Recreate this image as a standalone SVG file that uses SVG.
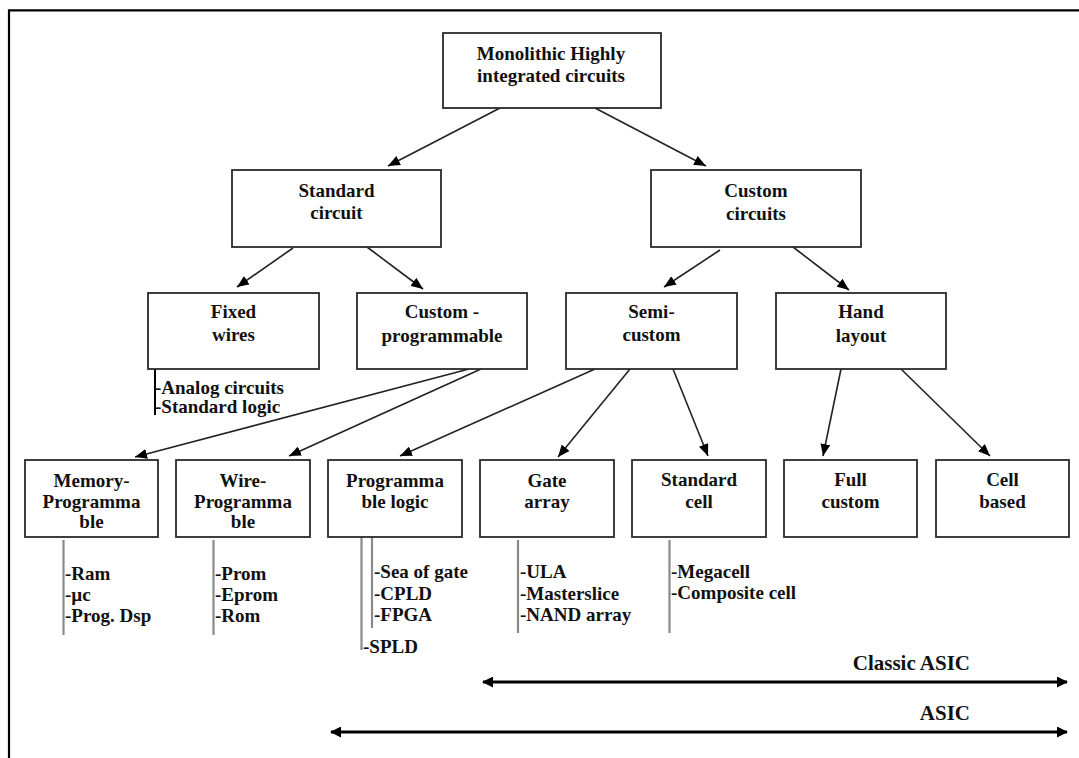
<svg xmlns="http://www.w3.org/2000/svg" width="1079" height="758" viewBox="0 0 1079 758">
  <style>
    .box { fill: #fff; stroke: #2a2a2a; stroke-width: 1.8; }
    .lbl { font-family: "Liberation Serif", "Times New Roman", serif; font-weight: bold; font-size: 19px; fill: #111; text-anchor: middle; }
    .item { font-family: "Liberation Serif", "Times New Roman", serif; font-weight: bold; font-size: 19px; fill: #111; }
    .range { font-family: "Liberation Serif", "Times New Roman", serif; font-weight: bold; font-size: 21px; fill: #111; text-anchor: end; }
    .edge { stroke: #222; stroke-width: 1.6; fill: none; marker-end: url(#tip); }
    .brk { stroke: #8a8a8a; stroke-width: 2.2; fill: none; }
    .span { stroke: #000; stroke-width: 3; fill: none; marker-start: url(#head); marker-end: url(#head); }
  </style>
  <defs>
    <marker id="tip" viewBox="0 0 12 10" markerWidth="12" markerHeight="10" refX="12" refY="5" orient="auto" markerUnits="userSpaceOnUse">
      <path d="M0,0 L12,5 L0,10 z" fill="#000"/>
    </marker>
    <marker id="head" viewBox="0 0 11 11" markerWidth="11" markerHeight="11" refX="10" refY="5.5" orient="auto-start-reverse" markerUnits="userSpaceOnUse">
      <path d="M0,0 L11,5.5 L0,11 z" fill="#000"/>
    </marker>
  </defs>

  <rect x="0" y="0" width="1079" height="758" fill="#fff"/>
  <!-- page frame -->
  <path d="M9,758 V10.3 H1079" stroke="#000" stroke-width="2.2" fill="none"/>

  <!-- connectors -->
  <g id="connectors">
    <line class="edge" x1="500" y1="108" x2="388" y2="166"/>
    <line class="edge" x1="595" y1="108" x2="706" y2="166"/>
    <line class="edge" x1="293" y1="248" x2="237" y2="287"/>
    <line class="edge" x1="367" y1="247" x2="423" y2="289"/>
    <line class="edge" x1="720" y1="250" x2="664" y2="287"/>
    <line class="edge" x1="793" y1="247" x2="849" y2="290"/>
    <line class="edge" x1="469" y1="369" x2="135" y2="457"/>
    <line class="edge" x1="481" y1="369" x2="289" y2="456"/>
    <line class="edge" x1="595" y1="369" x2="400" y2="456"/>
    <line class="edge" x1="630" y1="369" x2="558" y2="457"/>
    <line class="edge" x1="673" y1="369" x2="708" y2="456"/>
    <line class="edge" x1="841" y1="369" x2="823" y2="456"/>
    <line class="edge" x1="901" y1="369" x2="990" y2="456"/>
    <!-- list brackets -->
    <line x1="155" y1="369" x2="155" y2="415" stroke="#000" stroke-width="2"/>
    <line class="brk" x1="63.5" y1="540" x2="63.5" y2="635"/>
    <line class="brk" x1="213.5" y1="540" x2="213.5" y2="635"/>
    <line class="brk" x1="361.5" y1="537" x2="361.5" y2="650"/>
    <line class="brk" x1="372" y1="537" x2="372" y2="628"/>
    <line class="brk" x1="518" y1="540" x2="518" y2="633"/>
    <line class="brk" x1="669.5" y1="540" x2="669.5" y2="633"/>
    <!-- ASIC ranges -->
    <line class="span" x1="483" y1="682" x2="1067" y2="682"/>
    <line class="span" x1="331" y1="732" x2="1067" y2="732"/>
  </g>

  <g id="n-monolithic">
    <rect class="box" x="443" y="33" width="218" height="75"/>
    <text class="lbl" x="551" y="60">Monolithic Highly</text>
    <text class="lbl" x="551" y="82">integrated circuits</text>
  </g>
  <g id="n-standard-circuit">
    <rect class="box" x="232" y="170" width="209" height="77"/>
    <text class="lbl" x="336.5" y="197">Standard</text>
    <text class="lbl" x="336.5" y="219">circuit</text>
  </g>
  <g id="n-custom-circuits">
    <rect class="box" x="651" y="170" width="210" height="77"/>
    <text class="lbl" x="756" y="197">Custom</text>
    <text class="lbl" x="756" y="220">circuits</text>
  </g>
  <g id="n-fixed-wires">
    <rect class="box" x="148" y="293" width="171" height="76"/>
    <text class="lbl" x="233.5" y="318">Fixed</text>
    <text class="lbl" x="233.5" y="341">wires</text>
  </g>
  <g id="n-custom-programmable">
    <rect class="box" x="357" y="293" width="170" height="76"/>
    <text class="lbl" x="442" y="318">Custom -</text>
    <text class="lbl" x="442" y="342">programmable</text>
  </g>
  <g id="n-semi-custom">
    <rect class="box" x="566" y="293" width="171" height="76"/>
    <text class="lbl" x="651.5" y="318">Semi-</text>
    <text class="lbl" x="651.5" y="341">custom</text>
  </g>
  <g id="n-hand-layout">
    <rect class="box" x="776" y="293" width="170" height="76"/>
    <text class="lbl" x="861" y="318">Hand</text>
    <text class="lbl" x="861" y="342">layout</text>
  </g>

  <g id="n-memory-programmable">
    <rect class="box" x="25" y="460" width="133" height="77"/>
    <text class="lbl" x="91.5" y="487">Memory-</text>
    <text class="lbl" x="91.5" y="508">Programma</text>
    <text class="lbl" x="91.5" y="528">ble</text>
  </g>
  <g id="n-wire-programmable">
    <rect class="box" x="176" y="460" width="134" height="77"/>
    <text class="lbl" x="243" y="487">Wire-</text>
    <text class="lbl" x="243" y="508">Programma</text>
    <text class="lbl" x="243" y="528">ble</text>
  </g>
  <g id="n-programmable-logic">
    <rect class="box" x="328" y="460" width="134" height="77"/>
    <text class="lbl" x="395" y="487">Programma</text>
    <text class="lbl" x="395" y="508">ble logic</text>
  </g>
  <g id="n-gate-array">
    <rect class="box" x="480" y="460" width="134" height="77"/>
    <text class="lbl" x="547" y="487">Gate</text>
    <text class="lbl" x="547" y="508">array</text>
  </g>
  <g id="n-standard-cell">
    <rect class="box" x="632" y="460" width="134" height="77"/>
    <text class="lbl" x="699" y="486">Standard</text>
    <text class="lbl" x="699" y="508">cell</text>
  </g>
  <g id="n-full-custom">
    <rect class="box" x="784" y="460" width="133" height="77"/>
    <text class="lbl" x="850.5" y="486">Full</text>
    <text class="lbl" x="850.5" y="508">custom</text>
  </g>
  <g id="n-cell-based">
    <rect class="box" x="936" y="460" width="133" height="77"/>
    <text class="lbl" x="1002.5" y="486">Cell</text>
    <text class="lbl" x="1002.5" y="508">based</text>
  </g>

  <!-- item lists -->
  <g id="list-fixed-wires">
    <text class="item" x="155" y="394">-Analog circuits</text>
    <text class="item" x="155" y="413">-Standard logic</text>
  </g>
  <g id="list-memory">
    <text class="item" x="65" y="580">-Ram</text>
    <text class="item" x="65" y="601">-µc</text>
    <text class="item" x="65" y="622">-Prog. Dsp</text>
  </g>
  <g id="list-wire">
    <text class="item" x="215" y="580">-Prom</text>
    <text class="item" x="215" y="601">-Eprom</text>
    <text class="item" x="215" y="622">-Rom</text>
  </g>
  <g id="list-programmable-logic">
    <text class="item" x="374" y="578">-Sea of gate</text>
    <text class="item" x="374" y="600">-CPLD</text>
    <text class="item" x="374" y="621">-FPGA</text>
    <text class="item" x="363" y="653">-SPLD</text>
  </g>
  <g id="list-gate-array">
    <text class="item" x="520" y="578">-ULA</text>
    <text class="item" x="520" y="600">-Masterslice</text>
    <text class="item" x="520" y="621">-NAND array</text>
  </g>
  <g id="list-standard-cell">
    <text class="item" x="671" y="578">-Megacell</text>
    <text class="item" x="671" y="599">-Composite cell</text>
  </g>

  <g id="range-labels">
    <text class="range" x="970" y="670">Classic ASIC</text>
    <text class="range" x="970" y="720">ASIC</text>
  </g>
</svg>
